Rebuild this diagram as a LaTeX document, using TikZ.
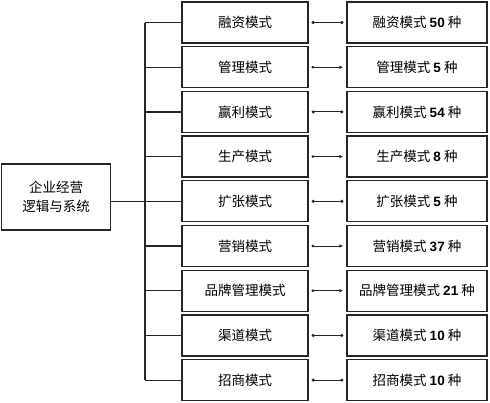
\documentclass[tikz,border=0pt]{standalone}
\usepackage{fontspec}
\setmainfont{Noto Sans CJK SC}
\newfontfamily\numfont{Liberation Sans}
\newcommand{\nm}[1]{{\numfont\bfseries #1}}
\usetikzlibrary{arrows.meta}
\begin{document}
\begin{tikzpicture}[x=1pt,y=-1pt,
  box/.style={draw=black!85,line width=1.3pt,minimum height=41pt,inner sep=0pt,font=\fontsize{13.5}{15}\selectfont},
  midbox/.style={box,minimum width=126pt},
  rbox/.style={box,minimum width=140pt},
  conn/.style={draw=black!85,line width=1.2pt},
  arr/.style={draw=black!85,line width=1pt}
]
\useasboundingbox (0,0) rectangle (490,402);
\node[box,minimum width=109pt,minimum height=66pt,align=center,font=\fontsize{13.5}{19}\selectfont] (root) at (56,197) {企业经营\\逻辑与系统};
\coordinate (tt) at (145,22.5);
\coordinate (tb) at (145,381);
\foreach \i/\a/\b in {0/融资模式/{融资模式 \nm{50} 种},
                      1/管理模式/{管理模式 \nm{5} 种},
                      2/赢利模式/{赢利模式 \nm{54} 种},
                      3/生产模式/{生产模式 \nm{8} 种},
                      4/扩张模式/{扩张模式 \nm{5} 种},
                      5/营销模式/{营销模式 \nm{37} 种},
                      6/品牌管理模式/{品牌管理模式 \nm{21} 种},
                      7/渠道模式/{渠道模式 \nm{10} 种},
                      8/招商模式/{招商模式 \nm{10} 种}} {
  \node[midbox] (m\i) at (245,{22.5+44.7*\i}) {\a};
  \node[rbox] (r\i) at (417,{22.5+44.7*\i}) {\b};
  \draw[conn] (m\i.west) -- (tt |- m\i.west);
}
\draw[conn] (tt) -- (tb |- m8.west);
\draw[conn] (root.east |- m4.west) -- (tt |- m4.west);
\foreach \i in {0,2,4,7,8} {
  \draw[arr,{Circle[length=3pt]}-{Circle[length=3pt]}] ([xshift=3pt]m\i.east) -- ([xshift=-3pt]r\i.west);
}
\foreach \i in {1,3,5,6} {
  \draw[arr,{Circle[length=2.5pt]}-{Latex[length=4pt,width=3.5pt]}] ([xshift=3pt]m\i.east) -- ([xshift=-3pt]r\i.west);
}
\end{tikzpicture}
\end{document}
